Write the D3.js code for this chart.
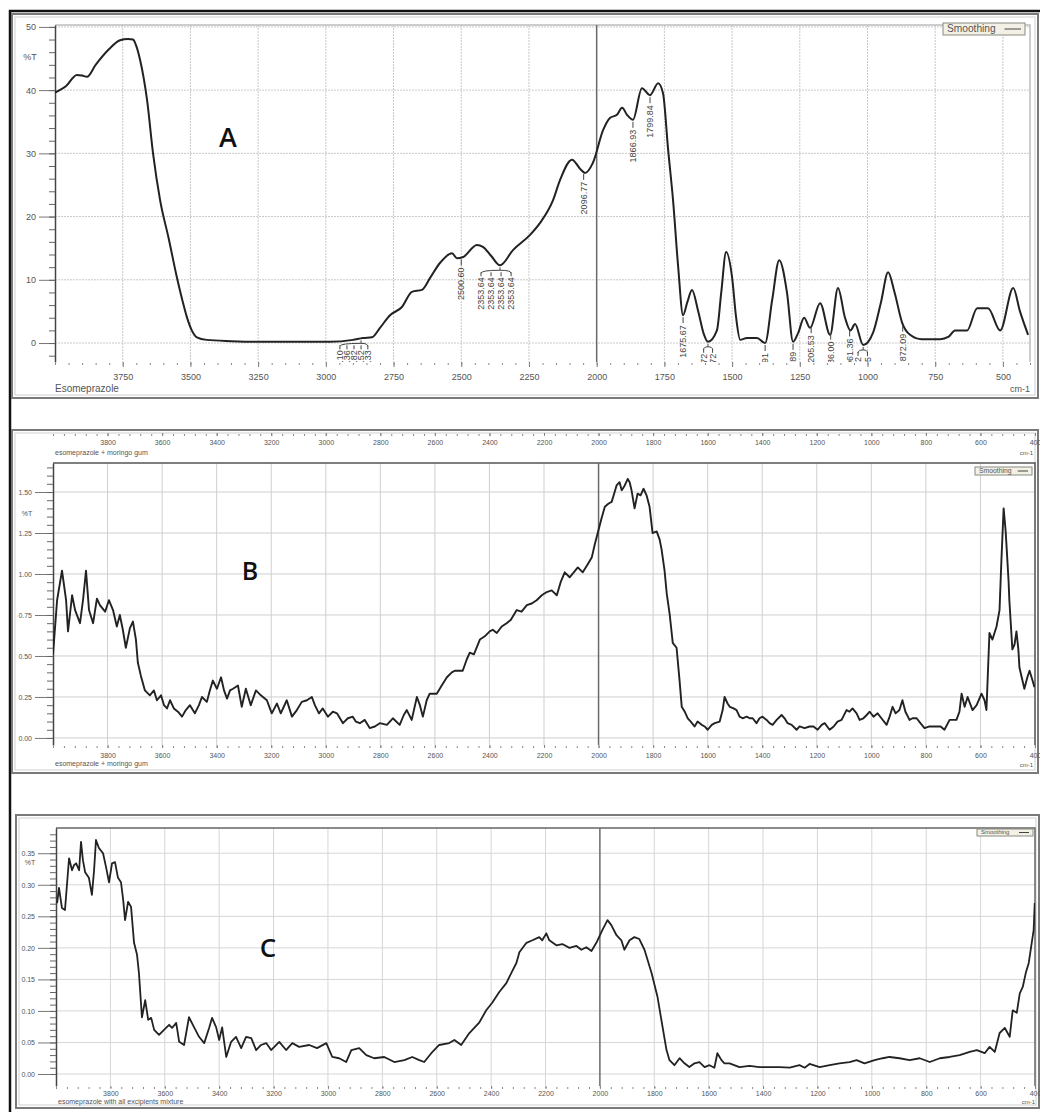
<!DOCTYPE html>
<html>
<head>
<meta charset="utf-8">
<script src="https://cdn.jsdelivr.net/npm/d3@7"></script>
<style>
  body { margin: 0; background: #fff; }
  svg { display: block; font-family: "Liberation Sans", Arial, sans-serif; }
</style>
</head>
<body>
<svg id="chart" width="1040" height="1112"></svg>
<script>
    // Spectrum A: esomeprazole, [wavenumber cm-1, %T]
    const spectrumA = [
        [4000,39.6],[3960,40.6],[3919,42.4],[3900,42.3],[3882,42.1],[3850,44.0],[3800,46.5],[3760,47.9],
        [3730,48.1],[3712,48.0],[3700,47.0],[3686,44.8],[3660,38.4],[3638,30.0],[3612,22.6],[3580,16.5],
        [3550,10.4],[3530,6.8],[3513,4.1],[3495,2.0],[3476,0.9],[3440,0.5],[3350,0.3],[3250,0.2],
        [3100,0.2],[2985,0.2],[2900,0.5],[2863,0.8],[2830,0.9],[2800,2.4],[2763,4.4],[2719,5.7],
        [2682,8.1],[2645,8.4],[2615,10.3],[2578,12.7],[2534,14.2],[2516,13.4],[2493,13.6],[2442,15.5],
        [2420,15.2],[2390,13.8],[2357,12.3],[2309,14.7],[2246,17.1],[2209,19.0],[2161,22.6],[2135,25.8],
        [2091,29.0],[2060,27.5],[2043,26.9],[2014,28.5],[1976,33.7],[1951,35.6],[1925,36.1],[1906,37.2],
        [1888,36.1],[1866,35.3],[1833,40.3],[1803,39.2],[1773,41.1],[1755,39.5],[1736,30.5],[1718,22.6],
        [1699,12.0],[1681,4.4],[1665,6.5],[1648,8.4],[1626,5.2],[1605,1.5],[1589,0.2],[1556,2.0],
        [1540,8.0],[1522,14.4],[1500,10.4],[1485,4.0],[1470,0.5],[1445,0.8],[1408,0.8],[1378,0.0],
        [1352,6.8],[1326,13.1],[1297,7.9],[1275,0.2],[1256,1.6],[1234,4.0],[1212,2.4],[1175,6.3],
        [1138,1.3],[1109,8.7],[1083,4.0],[1063,2.0],[1046,3.0],[1016,-0.3],[979,1.7],[950,6.5],
        [924,11.2],[900,8.0],[872,3.2],[843,1.3],[800,0.6],[732,0.6],[700,1.0],[677,2.0],
        [632,2.0],[595,5.5],[555,5.5],[510,2.0],[462,8.7],[437,5.0],[407,1.3]
    ];

    // Spectrum B: esomeprazole + moringo gum
    const spectrumB = [
        [4000,0.51],[3985,0.84],[3967,1.02],[3952,0.84],[3945,0.65],[3930,0.87],[3919,0.78],[3901,0.70],
        [3890,0.84],[3879,1.02],[3868,0.78],[3853,0.70],[3839,0.85],[3828,0.81],[3809,0.77],[3795,0.84],
        [3780,0.78],[3766,0.68],[3755,0.75],[3744,0.66],[3733,0.55],[3718,0.67],[3707,0.71],[3696,0.60],
        [3689,0.46],[3678,0.38],[3663,0.29],[3645,0.26],[3630,0.29],[3619,0.23],[3604,0.26],[3593,0.20],
        [3582,0.18],[3571,0.23],[3557,0.18],[3542,0.16],[3527,0.13],[3513,0.17],[3498,0.20],[3480,0.15],
        [3465,0.20],[3454,0.25],[3436,0.22],[3425,0.29],[3414,0.35],[3399,0.30],[3384,0.37],[3373,0.29],
        [3362,0.24],[3351,0.29],[3340,0.30],[3322,0.32],[3308,0.19],[3293,0.30],[3275,0.20],[3256,0.29],
        [3238,0.26],[3216,0.23],[3198,0.15],[3179,0.21],[3165,0.15],[3143,0.23],[3124,0.13],[3106,0.17],
        [3088,0.22],[3069,0.23],[3051,0.25],[3040,0.20],[3025,0.15],[3011,0.18],[2992,0.13],[2974,0.16],
        [2959,0.15],[2937,0.09],[2919,0.12],[2901,0.13],[2890,0.10],[2875,0.09],[2857,0.11],[2839,0.06],
        [2820,0.07],[2802,0.09],[2776,0.08],[2754,0.12],[2729,0.08],[2714,0.14],[2703,0.17],[2685,0.11],
        [2666,0.25],[2655,0.20],[2644,0.13],[2630,0.23],[2619,0.27],[2593,0.27],[2575,0.32],[2556,0.37],
        [2538,0.40],[2527,0.41],[2498,0.41],[2483,0.48],[2472,0.52],[2457,0.51],[2435,0.60],[2417,0.62],
        [2399,0.65],[2388,0.66],[2373,0.64],[2355,0.68],[2337,0.70],[2322,0.72],[2300,0.78],[2282,0.77],
        [2263,0.81],[2245,0.82],[2227,0.84],[2208,0.87],[2190,0.89],[2172,0.90],[2153,0.87],[2139,0.95],
        [2124,1.01],[2106,0.98],[2091,1.01],[2076,1.04],[2058,1.01],[2043,1.05],[2025,1.10],[2014,1.18],
        [2003,1.25],[1989,1.34],[1977,1.41],[1963,1.43],[1952,1.44],[1941,1.50],[1934,1.54],[1923,1.56],
        [1915,1.51],[1904,1.54],[1893,1.58],[1886,1.56],[1879,1.51],[1868,1.40],[1857,1.49],[1846,1.48],
        [1835,1.52],[1824,1.48],[1813,1.41],[1802,1.25],[1787,1.26],[1776,1.21],[1769,1.15],[1758,1.02],
        [1750,0.88],[1739,0.75],[1728,0.58],[1714,0.55],[1703,0.35],[1695,0.19],[1684,0.16],[1673,0.12],
        [1662,0.10],[1648,0.07],[1637,0.10],[1622,0.08],[1611,0.07],[1600,0.05],[1585,0.08],[1574,0.09],
        [1556,0.10],[1545,0.17],[1538,0.25],[1527,0.21],[1519,0.19],[1505,0.18],[1494,0.17],[1483,0.13],
        [1472,0.12],[1457,0.13],[1446,0.12],[1435,0.12],[1421,0.09],[1410,0.12],[1399,0.13],[1384,0.11],
        [1373,0.09],[1362,0.08],[1347,0.11],[1329,0.14],[1318,0.12],[1307,0.09],[1292,0.08],[1274,0.05],
        [1263,0.07],[1245,0.06],[1226,0.07],[1212,0.07],[1197,0.05],[1182,0.08],[1171,0.09],[1153,0.05],
        [1138,0.07],[1124,0.10],[1109,0.11],[1091,0.17],[1080,0.16],[1069,0.18],[1054,0.15],[1043,0.11],
        [1029,0.12],[1017,0.14],[1006,0.16],[992,0.13],[977,0.15],[963,0.12],[944,0.08],[933,0.13],
        [922,0.19],[911,0.15],[897,0.17],[886,0.23],[875,0.16],[860,0.11],[849,0.12],[834,0.12],
        [820,0.09],[805,0.06],[787,0.07],[761,0.07],[746,0.07],[732,0.05],[713,0.11],[688,0.11],
        [677,0.16],[669,0.27],[658,0.19],[647,0.25],[636,0.20],[629,0.17],[614,0.20],[596,0.27],
        [585,0.23],[578,0.17],[567,0.64],[556,0.60],[541,0.68],[530,0.78],[523,1.09],[515,1.40],
        [508,1.27],[505,1.19],[497,0.96],[494,0.84],[483,0.54],[475,0.57],[468,0.65],[461,0.54],
        [457,0.43],[446,0.35],[439,0.30],[428,0.37],[420,0.41],[409,0.35],[402,0.31]
    ];

    // Spectrum C: esomeprazole with all excipients mixture
    const spectrumC = [
        [3996,0.271],[3989,0.295],[3978,0.263],[3967,0.260],[3952,0.342],[3941,0.323],[3934,0.331],[3926,0.334],
        [3915,0.323],[3908,0.368],[3901,0.339],[3893,0.320],[3879,0.311],[3868,0.284],[3860,0.323],[3853,0.371],
        [3842,0.358],[3827,0.350],[3816,0.328],[3805,0.304],[3794,0.334],[3783,0.336],[3772,0.311],[3761,0.304],
        [3753,0.276],[3746,0.244],[3735,0.273],[3724,0.265],[3713,0.208],[3702,0.189],[3695,0.160],[3684,0.090],
        [3672,0.117],[3661,0.086],[3650,0.089],[3639,0.070],[3621,0.062],[3603,0.070],[3584,0.078],[3573,0.073],
        [3558,0.081],[3547,0.051],[3529,0.046],[3511,0.090],[3492,0.074],[3474,0.059],[3455,0.049],[3437,0.073],
        [3426,0.089],[3411,0.074],[3400,0.054],[3389,0.074],[3374,0.027],[3356,0.051],[3338,0.059],[3319,0.041],
        [3301,0.059],[3282,0.057],[3264,0.038],[3246,0.046],[3227,0.049],[3209,0.038],[3179,0.051],[3154,0.038],
        [3131,0.049],[3106,0.043],[3069,0.046],[3040,0.041],[3006,0.049],[2984,0.027],[2959,0.025],[2933,0.019],
        [2914,0.038],[2885,0.041],[2859,0.030],[2830,0.025],[2793,0.027],[2756,0.019],[2719,0.022],[2690,0.027],
        [2664,0.022],[2646,0.019],[2620,0.033],[2591,0.046],[2554,0.049],[2535,0.054],[2510,0.046],[2480,0.065],
        [2443,0.082],[2418,0.101],[2396,0.113],[2370,0.130],[2344,0.144],[2326,0.160],[2307,0.176],[2296,0.193],
        [2270,0.208],[2248,0.212],[2223,0.217],[2212,0.212],[2197,0.223],[2186,0.212],[2160,0.204],[2138,0.206],
        [2112,0.200],[2086,0.203],[2068,0.197],[2050,0.201],[2031,0.195],[2013,0.208],[1991,0.228],[1972,0.244],
        [1958,0.236],[1939,0.220],[1921,0.212],[1910,0.197],[1891,0.212],[1873,0.217],[1855,0.214],[1836,0.197],
        [1810,0.160],[1788,0.122],[1774,0.086],[1755,0.038],[1744,0.022],[1726,0.014],[1707,0.025],[1689,0.017],
        [1671,0.011],[1652,0.017],[1634,0.019],[1615,0.011],[1597,0.014],[1579,0.010],[1568,0.033],[1553,0.022],
        [1542,0.017],[1523,0.017],[1487,0.011],[1450,0.013],[1413,0.011],[1376,0.011],[1339,0.011],[1302,0.010],
        [1266,0.014],[1247,0.010],[1229,0.016],[1192,0.011],[1155,0.014],[1119,0.017],[1082,0.019],[1056,0.022],
        [1027,0.017],[990,0.022],[960,0.025],[935,0.027],[898,0.025],[861,0.022],[824,0.025],[787,0.019],
        [750,0.025],[714,0.027],[677,0.030],[640,0.035],[614,0.038],[585,0.033],[567,0.043],[548,0.035],
        [530,0.065],[511,0.073],[493,0.059],[482,0.101],[467,0.097],[456,0.128],[445,0.138],[434,0.160],
        [423,0.176],[412,0.208],[405,0.228],[401,0.271]
    ];

    // Tick values
    const xTicksA = [3750, 3500, 3250, 3000, 2750, 2500, 2250, 2000, 1750, 1500, 1250, 1000, 750, 500];
    const xTicksBC = [3800, 3600, 3400, 3200, 3000, 2800, 2600, 2400, 2200, 2000, 1800, 1600, 1400, 1200, 1000, 800, 600, 400];
    const yTicksA = [0, 10, 20, 30, 40, 50];
    const yTicksB = [0, 0.25, 0.5, 0.75, 1.0, 1.25, 1.5];
    const yTicksC = [0, 0.05, 0.10, 0.15, 0.20, 0.25, 0.30, 0.35];

    // Peak labels on spectrum A
    const peakWnA = [2500, 2048, 1866, 1803, 1681, 1378, 1275, 1208, 1136, 1066, 870];
    const peakTextA = ["2500.60", "2096.77", "1866.93", "1799.84", "1675.67", "1377.91", "1274.89", "1205.53", "1136.00", "1061.36", "872.09"];
    // Bracketed label groups: pivot wavenumber, label wavenumbers, texts
    const groupPivotA = [2357, 2870, 1589, 1016];
    const groupWnA = [[2427, 2390, 2353, 2316], [2948, 2922, 2896, 2870, 2845], [1605, 1572], [1035, 1000]];
    const groupTextA = [
        ["2353.64", "2353.64", "2353.64", "2353.64"],
        ["2956.10", "2924.36", "2896.82", "2870.52", "2851.33"],
        ["1625.72", "1592.72"],
        ["1033.12", "1006.45"]
    ];

    const svg = d3.select("#chart");
    const defs = svg.append("defs");

    function valueAt(data, wn) {
        const i = data.findIndex(d => d[0] <= wn);
        if (i <= 0) return data[0][1];
        const a = data[i - 1], b = data[i];
        const t = (a[0] - wn) / (a[0] - b[0]);
        return a[1] + (b[1] - a[1]) * t;
    }

    function drawPanel(p) {
        const g = svg.append("g");
        const [fx0, fy0, fx1, fy1] = p.frame;
        const [px0, py0, px1, py1] = p.plot;

        // window frame
        g.append("rect")
            .attr("x", fx0).attr("y", fy0)
            .attr("width", fx1 - fx0).attr("height", fy1 - fy0)
            .attr("fill", "#fff").attr("stroke", "#7a7a7a").attr("stroke-width", 2);
        g.append("rect")
            .attr("x", fx0 + 3).attr("y", fy0 + 3)
            .attr("width", fx1 - fx0 - 6).attr("height", fy1 - fy0 - 6)
            .attr("fill", "none").attr("stroke", "#cfcfcf").attr("stroke-width", 1);

        const x = d3.scaleLinear().domain([4000, 400]).range([px0, px1]);
        const y = d3.scaleLinear().domain(p.yDomain).range([py1, py0]);

        // grid
        const grid = g.append("g")
            .attr("stroke", p.gridColor)
            .attr("stroke-width", 1)
            .attr("stroke-dasharray", p.gridDash);
        grid.selectAll("line.v")
          .data(p.xTicks.filter(d => d !== 2000 && d > 400))
          .join("line")
            .attr("class", "v")
            .attr("x1", d => x(d)).attr("x2", d => x(d))
            .attr("y1", py0).attr("y2", py1);
        grid.selectAll("line.h")
          .data(p.yTicks)
          .join("line")
            .attr("class", "h")
            .attr("x1", px0).attr("x2", px1)
            .attr("y1", d => y(d)).attr("y2", d => y(d));

        // plot box top/right
        g.append("path")
            .attr("d", `M${px0},${py0}H${px1}V${py1}`)
            .attr("fill", "none").attr("stroke", p.boxColor).attr("stroke-width", 1.5);

        // darker line at 2000 cm-1
        g.append("line")
            .attr("x1", x(2000)).attr("x2", x(2000))
            .attr("y1", py0).attr("y2", py1)
            .attr("stroke", "#6a6a6a").attr("stroke-width", 1.5);

        // y axis
        const yAxis = g.append("g")
            .attr("transform", `translate(${px0},0)`)
            .call(d3.axisLeft(y).tickValues(p.yTicks).tickSize(p.yTickLen).tickSizeOuter(0)
                .tickPadding(3).tickFormat(p.yFormat));
        yAxis.select(".domain").attr("stroke", "#444").attr("stroke-width", 1.5);
        yAxis.selectAll(".tick line").attr("stroke", "#777");
        yAxis.selectAll("text").attr("fill", "#555").attr("font-size", p.tickFont);

        const yMinor = g.append("g")
            .attr("transform", `translate(${px0},0)`)
            .call(d3.axisLeft(y).tickValues(d3.range(p.yMinor[0], p.yMinor[1], p.yMinor[2]))
                .tickSize(6).tickSizeOuter(0).tickFormat(""));
        yMinor.select(".domain").remove();
        yMinor.selectAll(".tick line").attr("stroke", "#666");

        // x axis (bottom)
        const xAxis = g.append("g")
            .attr("transform", `translate(0,${py1})`)
            .call(d3.axisBottom(x).tickValues(p.xTicks).tickSize(p.xTickLen).tickSizeOuter(0)
                .tickPadding(p.xPad).tickFormat(d3.format("d")));
        xAxis.select(".domain").remove();
        xAxis.selectAll(".tick line").attr("stroke", "#777");
        xAxis.selectAll("text").attr("fill", "#555").attr("font-size", p.tickFont);

        const xMinor = g.append("g")
            .attr("transform", `translate(0,${py1 + 1})`)
            .call(d3.axisBottom(x).tickValues(d3.range(4000, 399, -p.xMinor))
                .tickSize(2).tickSizeOuter(0).tickFormat(""));
        xMinor.select(".domain").remove();
        xMinor.selectAll(".tick line").attr("stroke", "#888");

        // optional duplicate axis on top (panel B)
        if (p.topAxisY) {
            const topAxis = g.append("g")
                .attr("transform", `translate(0,${p.topAxisY})`)
                .call(d3.axisBottom(x).tickValues(p.xTicks).tickSize(3).tickSizeOuter(0)
                    .tickPadding(4).tickFormat(d3.format("d")));
            topAxis.select(".domain").remove();
            topAxis.selectAll(".tick line").attr("stroke", "#777");
            topAxis.selectAll("text").attr("fill", "#555").attr("font-size", p.tickFont);
            const topMinor = g.append("g")
                .attr("transform", `translate(0,${p.topAxisY + 1})`)
                .call(d3.axisBottom(x).tickValues(d3.range(4000, 399, -p.xMinor))
                    .tickSize(2).tickSizeOuter(0).tickFormat(""));
            topMinor.select(".domain").remove();
            topMinor.selectAll(".tick line").attr("stroke", "#888");
        }

        // clip to plot area
        defs.append("clipPath").attr("id", "clip" + p.id)
          .append("rect")
            .attr("x", px0).attr("y", py0)
            .attr("width", px1 - px0).attr("height", py1 - py0);

        // spectrum line
        g.append("path")
            .datum(p.data)
            .attr("clip-path", `url(#clip${p.id})`)
            .attr("fill", "none")
            .attr("stroke", "#222")
            .attr("stroke-width", p.lineWidth)
            .attr("stroke-linejoin", "round")
            .attr("d", d3.line()
                .x(d => x(d[0]))
                .y(d => y(d[1]))
                .curve(p.curve));

        // %T label
        g.append("text")
            .attr("x", p.pctT[0]).attr("y", p.pctT[1])
            .attr("font-size", p.tickFont).attr("fill", "#555")
            .attr("text-anchor", "middle")
            .text("%T");

        // big panel letter
        g.append("text")
            .attr("x", p.letter[0]).attr("y", p.letter[1])
            .attr("font-family", "'Open Sans', 'DejaVu Sans', sans-serif")
            .attr("font-size", p.letter[2])
            .attr("font-weight", 600)
            .attr("fill", "#111")
            .attr("text-anchor", "middle")
            .text(p.id);

        // legend box
        const [lx0, ly0, lx1, ly1] = p.legend;
        g.append("rect")
            .attr("x", lx0).attr("y", ly0)
            .attr("width", lx1 - lx0).attr("height", ly1 - ly0)
            .attr("fill", "#f3f1e6").attr("stroke", "#8a8a80");
        g.append("text")
            .attr("x", lx0 + 4).attr("y", ly1 - (ly1 - ly0) * 0.22)
            .attr("font-size", (ly1 - ly0) * 0.85).attr("fill", "#555")
            .text("Smoothing");
        g.append("line")
            .attr("x1", lx1 - (lx1 - lx0) * 0.25).attr("x2", lx1 - 4)
            .attr("y1", (ly0 + ly1) / 2).attr("y2", (ly0 + ly1) / 2)
            .attr("stroke", "#444");

        // captions
        p.captions.forEach(c => {
            g.append("text")
                .attr("x", c[0]).attr("y", c[1])
                .attr("font-size", c[2]).attr("fill", "#555")
                .attr("text-anchor", c[4] || "start")
                .text(c[3]);
        });

        return { g, x, y };
    }

    // figure border (left and top)
    svg.append("path")
        .attr("d", "M10,1112V11H1040")
        .attr("fill", "none").attr("stroke", "#111").attr("stroke-width", 2.5);

    const panelA = drawPanel({
        id: "A", data: spectrumA,
        frame: [12, 14, 1038, 398], plot: [55, 25, 1030, 362],
        yDomain: [-3, 50.3], xTicks: xTicksA, yTicks: yTicksA,
        yFormat: d3.format("d"), yMinor: [-2, 51, 2], xMinor: 50,
        yTickLen: 16, xTickLen: 5, xPad: 7, tickFont: 9,
        gridColor: "#c9c9c9", gridDash: "2,1", boxColor: "#bdbdbd",
        lineWidth: 2, curve: d3.curveMonotoneX,
        pctT: [30, 60], letter: [228, 147, 27],
        legend: [943, 23, 1025, 35],
        captions: [[55, 392, 10, "Esomeprazole"], [1030, 392, 9, "cm-1", "end"]]
    });

    drawPanel({
        id: "B", data: spectrumB,
        frame: [12, 430, 1038, 773], plot: [53, 463, 1035, 745],
        yDomain: [-0.043, 1.677], xTicks: xTicksBC, yTicks: yTicksB,
        yFormat: d3.format(".2f"), yMinor: [0, 1.66, 0.05], xMinor: 40,
        yTickLen: 18, xTickLen: 3, xPad: 5, tickFont: 7,
        gridColor: "#cfcfcf", gridDash: null, boxColor: "#555",
        lineWidth: 1.9, curve: d3.curveLinear,
        topAxisY: 433,
        pctT: [27, 516], letter: [250, 580, 25],
        legend: [975, 467, 1032, 475],
        captions: [[55, 455, 7, "esomeprazole + moringo gum"], [1033, 455, 6, "cm-1", "end"],
                   [55, 766, 7, "esomeprazole + moringo gum"], [1033, 767, 6, "cm-1", "end"]]
    });

    drawPanel({
        id: "C", data: spectrumC,
        frame: [16, 815, 1039, 1108], plot: [56, 828, 1035, 1086],
        yDomain: [-0.019, 0.39], xTicks: xTicksBC, yTicks: yTicksC,
        yFormat: d3.format(".2f"), yMinor: [0, 0.385, 0.01], xMinor: 40,
        yTickLen: 18, xTickLen: 2, xPad: 3, tickFont: 7,
        gridColor: "#d6d6d6", gridDash: null, boxColor: "#666",
        lineWidth: 1.8, curve: d3.curveLinear,
        pctT: [30, 865], letter: [268, 957, 26],
        legend: [977, 829, 1033, 836],
        captions: [[58, 1104, 7, "esomeprazole with all excipients mixture"], [1035, 1104, 6, "cm-1", "end"]]
    });

    // peak annotations on spectrum A
    const ax = panelA.x, ay = panelA.y;
    const ann = panelA.g.append("g")
        .attr("clip-path", "url(#clipA)")
        .attr("font-size", 9).attr("fill", "#444");

    peakWnA.forEach((wn, i) => {
        const px = ax(wn);
        const py = ay(valueAt(spectrumA, wn));
        ann.append("line")
            .attr("x1", px).attr("x2", px)
            .attr("y1", py + 2).attr("y2", py + 8)
            .attr("stroke", "#444");
        ann.append("text")
            .attr("transform", `translate(${px + 3},${py + 10}) rotate(-90)`)
            .attr("text-anchor", "end")
            .text(peakTextA[i]);
    });

    groupPivotA.forEach((pv, i) => {
        const cx = ax(pv);
        const cy = ay(valueAt(spectrumA, pv));
        const xs = groupWnA[i].map(w => ax(w));
        ann.append("path")
            .attr("d", `M${cx},${cy + 2}V${cy + 5}M${d3.min(xs)},${cy + 8}Q${d3.min(xs)},${cy + 5} ${cx},${cy + 5}Q${d3.max(xs)},${cy + 5} ${d3.max(xs)},${cy + 8}`
                + xs.map(v => `M${v},${cy + 7}V${cy + 11}`).join(""))
            .attr("fill", "none").attr("stroke", "#444");
        xs.forEach((v, j) => {
            ann.append("text")
                .attr("transform", `translate(${v + 3},${cy + 12}) rotate(-90)`)
                .attr("text-anchor", "end")
                .text(groupTextA[i][j]);
        });
    });
</script>
</body>
</html>
